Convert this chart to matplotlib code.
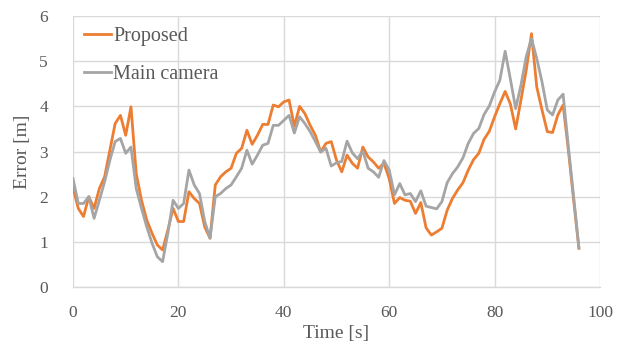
import matplotlib
matplotlib.use("Agg")
import matplotlib.pyplot as plt
import numpy as np

# time axis, one sample per second
time_s = np.arange(0, 97)

# error of the proposed method [m]
proposed = [
    2.2, 1.74, 1.56, 2.0, 1.74, 2.18, 2.44, 3.03, 3.62, 3.8,
    3.36, 3.99, 2.51, 1.92, 1.48, 1.19, 0.93, 0.82, 1.26, 1.74,
    1.45, 1.45, 2.11, 1.96, 1.85, 1.33, 1.08, 2.26, 2.44, 2.55,
    2.63, 2.96, 3.07, 3.47, 3.16, 3.36, 3.6, 3.6, 4.03, 3.99,
    4.1, 4.14, 3.56, 4.0, 3.84, 3.58, 3.36, 2.99, 3.18, 3.22,
    2.81, 2.55, 2.92, 2.74, 2.63, 3.1, 2.88, 2.77, 2.63, 2.74,
    2.4, 1.85, 1.98, 1.92, 1.9, 1.63, 1.87, 1.31, 1.15, 1.22,
    1.3, 1.7, 1.96, 2.15, 2.31, 2.59, 2.82, 2.96, 3.27, 3.45,
    3.77, 4.06, 4.33, 4.05, 3.5, 4.14, 4.8, 5.61, 4.43, 3.92,
    3.44, 3.42, 3.81, 4.03, 3.03, 1.92, 0.86,
]

# error of the main camera [m]
main_camera = [
    2.4, 1.85, 1.85, 2.0, 1.52, 1.92, 2.33, 2.81, 3.22, 3.29,
    2.96, 3.1, 2.18, 1.74, 1.33, 0.97, 0.67, 0.56, 1.19, 1.92,
    1.74, 1.85, 2.59, 2.26, 2.07, 1.45, 1.08, 2.0, 2.07, 2.18,
    2.26, 2.44, 2.63, 3.03, 2.72, 2.92, 3.14, 3.18, 3.58, 3.58,
    3.69, 3.8, 3.41, 3.77, 3.62, 3.44, 3.22, 2.99, 3.07, 2.68,
    2.75, 2.78, 3.23, 2.97, 2.84, 3.01, 2.63, 2.55, 2.43, 2.8,
    2.59, 2.04, 2.29, 2.04, 2.07, 1.89, 2.13, 1.79, 1.76, 1.73,
    1.89, 2.31, 2.51, 2.66, 2.86, 3.18, 3.4, 3.51, 3.82, 4.01,
    4.32, 4.58, 5.22, 4.6, 3.95, 4.47, 5.1, 5.5, 5.06, 4.54,
    3.92, 3.81, 4.14, 4.27, 3.1, 2.0, 0.86,
]

x_ticks = [0, 20, 40, 60, 80, 100]
y_ticks = [0, 1, 2, 3, 4, 5, 6]

plt.rcParams["font.family"] = ["Liberation Serif", "DejaVu Serif"]
text_color = "#595959"
grid_color = "#D9D9D9"

fig = plt.figure(figsize=(6.25, 3.49), dpi=100)
ax = fig.add_axes([0.1168, 0.1777, 0.8432, 0.7763])

ax.plot(time_s, proposed, color="#ED7D31", linewidth=2.0, label="Proposed", zorder=3)
ax.plot(time_s, main_camera, color="#A5A5A5", linewidth=2.0, label="Main camera", zorder=3)

ax.set_xlim(0, 100)
ax.set_ylim(0, 6)
ax.set_xticks(x_ticks)
ax.set_yticks(y_ticks)
ax.grid(True, color=grid_color, linewidth=1.0, zorder=0)
for side in ["top", "right", "left"]:
    ax.spines[side].set_visible(False)
ax.spines["bottom"].set_color(grid_color)
ax.spines["bottom"].set_linewidth(1.0)
ax.tick_params(axis="both", length=0, labelsize=12.5, colors=text_color)
ax.tick_params(axis="x", pad=13)
ax.tick_params(axis="y", pad=18)

ax.set_xlabel("Time [s]", fontsize=14, color=text_color, labelpad=3)
ax.set_ylabel("Error [m]", fontsize=14, color=text_color, labelpad=6)

leg = ax.legend(loc="upper left", bbox_to_anchor=(0.0, 1.0), frameon=False,
                fontsize=14.5, handlelength=1.35, handletextpad=0.1,
                labelspacing=0.95, borderaxespad=0.15)
for t in leg.get_texts():
    t.set_color(text_color)

fig.savefig("out.png", dpi=100)
